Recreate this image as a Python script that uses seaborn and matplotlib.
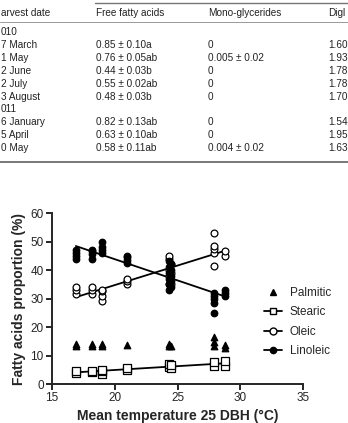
import pandas as pd
import seaborn as sns
import matplotlib.pyplot as plt
from matplotlib.lines import Line2D

# ---- table text (cropped page, left and right edges cut off) ----
TABLE_HEADER = ['arvest date', 'Free fatty acids', 'Mono-glycerides', 'Digl']
TABLE_DATES = ['010', '7 March', '1 May', '2 June', '2 July', '3 August',
               '011', '6 January', '5 April', '0 May']
TABLE_FFA = ['', '0.85 ± 0.10a', '0.76 ± 0.05ab', '0.44 ± 0.03b', '0.55 ± 0.02ab',
             '0.48 ± 0.03b', '', '0.82 ± 0.13ab', '0.63 ± 0.10ab', '0.58 ± 0.11ab']
TABLE_MONO = ['', '0', '0.005 ± 0.02', '0', '0', '0', '', '0', '0', '0.004 ± 0.02']
TABLE_DIGL = ['', '1.60', '1.93', '1.78', '1.78', '1.70', '', '1.54', '1.95', '1.63']

# ---- fatty acid proportions vs mean temperature 25 days before harvest ----
palmitic_t = [16.9, 16.9, 18.2, 18.2, 19.0, 19.0, 21.0, 24.3, 24.3, 24.5,
              27.9, 27.9, 27.9, 28.8, 28.8]
palmitic = [13.4, 14.2, 13.4, 14.2, 13.4, 14.2, 13.8, 13.2, 13.9, 13.2,
            16.4, 14.6, 13.2, 13.6, 12.8]

stearic_t = [16.9, 16.9, 18.2, 18.2, 19.0, 19.0, 19.0, 21.0, 21.0,
             24.3, 24.3, 24.5, 24.5, 27.9, 27.9, 28.8, 28.8]
stearic = [4.0, 4.6, 4.2, 4.6, 3.6, 4.4, 5.0, 5.0, 5.6,
           6.0, 7.0, 5.6, 6.6, 6.2, 7.6, 6.4, 8.0]

oleic_t = [16.9, 16.9, 16.9, 18.2, 18.2, 18.2, 19.0, 19.0, 19.0, 19.0,
           21.0, 21.0, 21.0, 24.3, 24.3, 24.3, 24.3, 24.3, 24.5, 24.5, 24.5,
           27.9, 27.9, 27.9, 27.9, 27.9, 28.8, 28.8]
oleic = [31.5, 33.0, 34.0, 31.5, 33.0, 34.0, 29.0, 31.0, 32.5, 33.0,
         35.0, 36.0, 37.0, 35.0, 38.0, 40.0, 44.0, 45.0, 35.0, 39.0, 42.0,
         41.5, 46.0, 47.5, 48.5, 53.0, 45.0, 46.5]

linoleic_t = [16.9, 16.9, 16.9, 16.9, 18.2, 18.2, 18.2, 18.2, 19.0, 19.0, 19.0, 19.0,
              21.0, 21.0, 21.0, 21.0, 24.3, 24.3, 24.3, 24.3, 24.3, 24.3,
              24.5, 24.5, 24.5, 24.5, 24.5, 27.9, 27.9, 27.9, 27.9, 27.9,
              28.8, 28.8, 28.8]
linoleic = [44.0, 45.0, 46.0, 47.0, 44.0, 45.5, 46.5, 47.0, 46.0, 47.0, 48.0, 50.0,
            42.5, 43.5, 44.5, 45.0, 33.0, 35.0, 37.0, 39.0, 41.0, 43.0,
            34.0, 36.0, 38.0, 40.0, 42.0, 25.0, 28.5, 30.0, 31.0, 32.0,
            31.0, 32.0, 33.0]

W, H = 348, 423
sns.set_style('ticks')
plt.rcParams['font.family'] = ['Liberation Sans', 'DejaVu Sans']

fig = plt.figure(figsize=(W / 100, H / 100), dpi=100)


def fy(py):
    return 1 - py / H


# table
tcol = '#222222'
col_x = [1, 96, 208, 328]
for x, t in zip(col_x, TABLE_HEADER):
    fig.text(x / W, fy(13), t, fontsize=7.2, color=tcol, va='center')
row_y = [32, 45, 58, 71, 84, 97, 109, 122, 135, 148]
for i, y in enumerate(row_y):
    for x, col in zip(col_x, [TABLE_DATES, TABLE_FFA, TABLE_MONO, TABLE_DIGL]):
        if col[i]:
            fig.text(x / W, fy(y), col[i], fontsize=7.2, color=tcol, va='center')
fig.add_artist(Line2D([95 / W, 1], [fy(3), fy(3)], transform=fig.transFigure,
                      color='#777777', lw=1.0))
fig.add_artist(Line2D([0, 1], [fy(22), fy(22)], transform=fig.transFigure,
                      color='#999999', lw=0.7))
fig.add_artist(Line2D([0, 1], [fy(162), fy(162)], transform=fig.transFigure,
                      color='#777777', lw=1.4))

# chart
ax = fig.add_axes([52 / W, 1 - 384 / H, (303 - 52) / W, (384 - 213) / H])

series = [
    ('Palmitic', palmitic_t, palmitic, '^', 'black', 22, False),
    ('Stearic', stearic_t, stearic, 's', 'white', 30, True),
    ('Oleic', oleic_t, oleic, 'o', 'white', 24, True),
    ('Linoleic', linoleic_t, linoleic, 'o', 'black', 22, True),
]
for name, t, v, m, fc, s, fit in series:
    df = pd.DataFrame({'temp': t, 'value': v})
    sns.scatterplot(data=df, x='temp', y='value', marker=m, s=s, color=fc,
                    edgecolor='black', linewidth=0.9, ax=ax, zorder=3)
    if fit:
        sns.regplot(data=df, x='temp', y='value', scatter=False, ci=None,
                    truncate=True, color='black', line_kws={'lw': 1.3, 'zorder': 2},
                    ax=ax)

ax.set_xlim(15, 35)
ax.set_ylim(0, 60)
ax.set_xticks([15, 20, 25, 30, 35])
ax.set_yticks([0, 10, 20, 30, 40, 50, 60])
ax.tick_params(labelsize=8.5, width=1.2, length=4, pad=2, color='black')
for sp in ['left', 'bottom']:
    ax.spines[sp].set_linewidth(1.4)
sns.despine(ax=ax)
ax.set_xlabel('Mean temperature 25 DBH (°C)', fontsize=10, fontweight='bold', labelpad=3)
ax.set_ylabel('Fatty acids proportion (%)', fontsize=10, fontweight='bold', labelpad=3)

handles = [
    Line2D([], [], ls='none', marker='^', ms=4.5, color='black'),
    Line2D([], [], color='black', lw=1.3, marker='s', ms=5, mfc='white', mec='black'),
    Line2D([], [], color='black', lw=1.3, marker='o', ms=5, mfc='white', mec='black'),
    Line2D([], [], color='black', lw=1.3, marker='o', ms=4.5, mfc='black', mec='black'),
]
ax.legend(handles, ['Palmitic', 'Stearic', 'Oleic', 'Linoleic'], frameon=False,
          fontsize=8.5, handlelength=1.5, labelspacing=0.62, handletextpad=0.7,
          loc='upper left', bbox_to_anchor=(264 / W, fy(287)),
          bbox_transform=fig.transFigure, borderaxespad=0, borderpad=0)

fig.savefig('out.png', dpi=100)
